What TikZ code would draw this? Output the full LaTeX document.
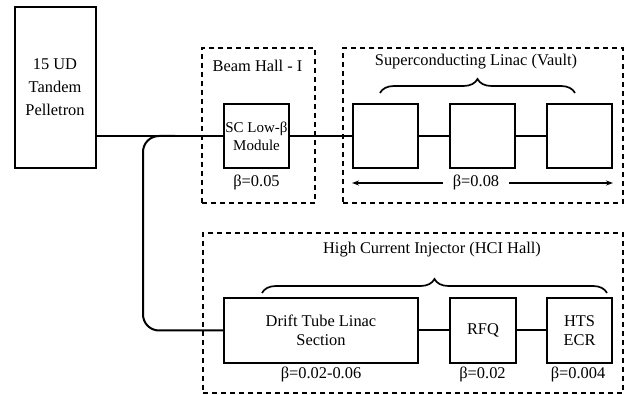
\documentclass[tikz,border=0pt]{standalone}
\usepackage{fontspec}
\setmainfont{Liberation Serif}
\usetikzlibrary{decorations.pathreplacing,arrows.meta,calc}
\begin{document}
\begin{tikzpicture}[x=1pt,y=-1pt,
  txt/.style={font=\fontsize{16.4}{18.8}\selectfont, inner sep=0pt, align=center},
  blk/.style={draw, line width=2pt, inner sep=0pt, txt},
  hall/.style={draw, line width=1.4pt, dash pattern=on 5pt off 4pt, inner sep=0pt},
  beam/.style={line width=2pt},
  brc/.style={decorate, decoration={brace, amplitude=14pt}, line width=1.7pt}
]
\useasboundingbox (0,0) rectangle (624,395);
% halls
\node[hall, minimum width=113, minimum height=155] (bh) at (258.5,125.5) {};
\node[hall, minimum width=280, minimum height=155] (vault) at (483,125.5) {};
\node[hall, minimum width=420, minimum height=160] (hci) at (413,313) {};
% titles
\node[txt] (bht) at (257.5,66) {Beam Hall - I};
\node[txt] (vt) at (476,62) {Superconducting Linac (Vault)};
\node[txt] (ht) at (432,250) {High Current Injector (HCI Hall)};
% blocks
\node[blk, minimum width=81, minimum height=161, font=\fontsize{16.4}{23}\selectfont] (pel) at (55,87.5) {15 UD\\Tandem\\Pelletron};
\node[blk, minimum width=65, minimum height=64, font=\fontsize{15}{18}\selectfont] (sc) at (256.5,136) {SC Low-β\\Module};
\node[blk, minimum width=65, minimum height=64] (v1) at (385.5,136) {};
\node[blk, minimum width=65, minimum height=64] (v2) at (482.5,136) {};
\node[blk, minimum width=65, minimum height=64] (v3) at (579.5,136) {};
\node[blk, minimum width=194, minimum height=65] (dtl) at (321,330.5) {Drift Tube Linac\\Section};
\node[blk, minimum width=66, minimum height=65] (rfq) at (483,330.5) {RFQ};
\node[blk, minimum width=65, minimum height=65] (hts) at (579.5,330.5) {HTS\\ECR};
% beta labels
\node[txt] (b1) at (256.5,182) {β=0.05};
\node[txt] (b3) at (321,374) {β=0.02-0.06};
\node[txt] (b4) at (482.5,374) {β=0.02};
\node[txt] (b5) at (578,374) {β=0.004};
% connectors
\draw[beam] (pel.east |- sc.west) -- (sc.west);
\draw[beam] (sc.east) -- (v1.west);
\draw[beam] (v1.east) -- (v2.west);
\draw[beam] (v2.east) -- (v3.west);
\draw[beam] (dtl.east) -- (rfq.west);
\draw[beam] (rfq.east) -- (hts.west);
\coordinate (br) at (175,136);
\coordinate (bend) at ($(dtl.west)+(-80,0)$);
\draw[beam, rounded corners=16pt] (br) -| (bend) -- (dtl.west);
% beta 0.08 arrow
\coordinate (al) at ($(v1.south west)+(0,14)$);
\coordinate (ar) at ($(v3.south east)+(0,14)$);
\draw[line width=1.2pt, {Stealth[length=7pt,width=5pt]}-{Stealth[length=7pt,width=5pt]}] (al) -- (ar);
\node[txt, fill=white, inner xsep=10pt, inner ysep=2pt] (b2) at (476,182) {β=0.08};
% braces
\draw[brc] (380,93) -- (575,93);
\draw[brc] (262,293) -- (607,293);
\end{tikzpicture}
\end{document}
